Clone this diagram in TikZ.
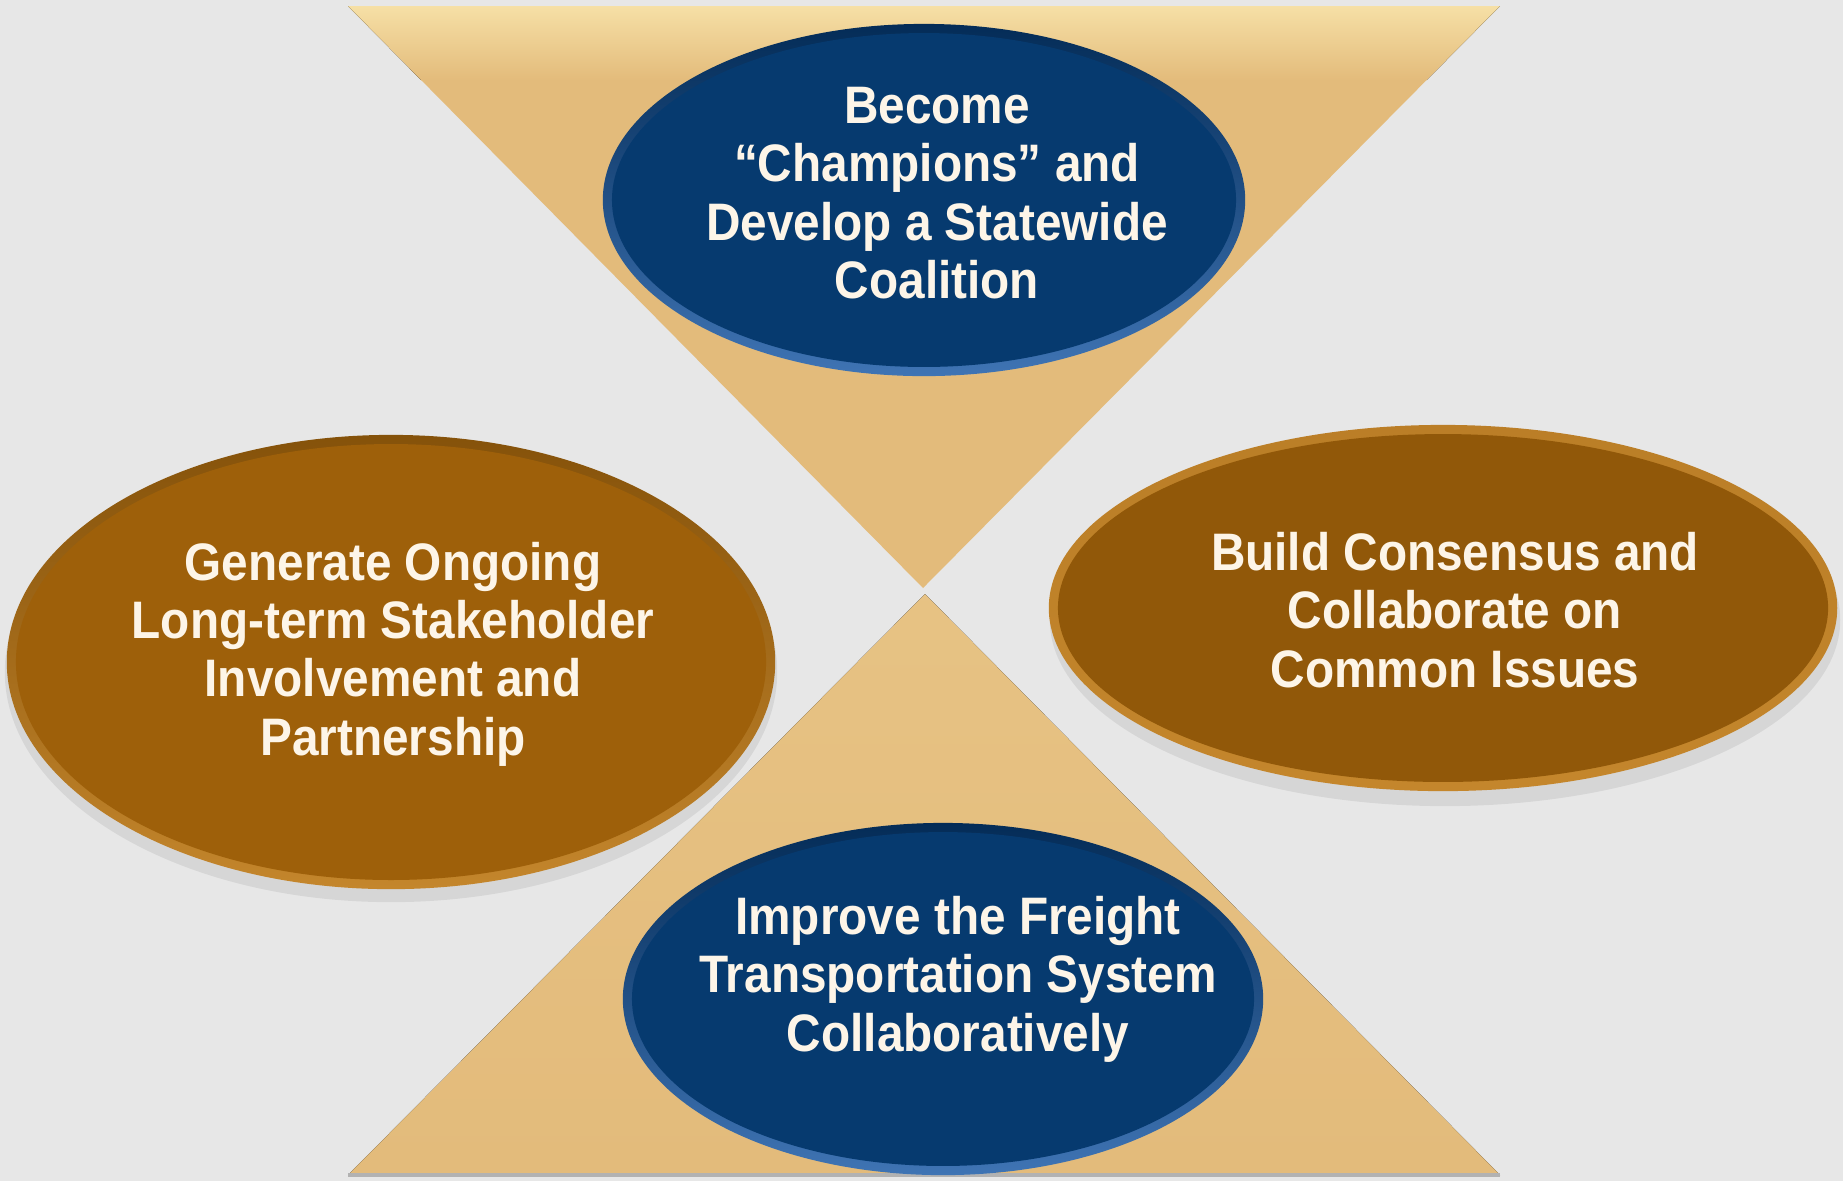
\documentclass[tikz,border=0pt]{standalone}
\usepackage{fontspec}
\setmainfont[FakeStretch=0.905]{Liberation Sans}
\usetikzlibrary{shapes.geometric}

\definecolor{bgGrey}{HTML}{E7E7E7}
\definecolor{tanMain}{HTML}{E3BB7B}
\definecolor{tanLight}{HTML}{F6E0A6}
\definecolor{navyMain}{HTML}{063A6F}
\definecolor{navyDark}{HTML}{042C57}
\definecolor{navyLight}{HTML}{3F74B4}
\definecolor{brownMain}{HTML}{9E600A}
\definecolor{brownDark}{HTML}{85520A}
\definecolor{brownLight}{HTML}{C4862C}
\definecolor{creamText}{HTML}{FDF5E8}

\begin{document}
\begin{tikzpicture}[x=0.01cm, y=-0.01cm]

% Styles for the ovals and their texts
\tikzset{oval/.style n args={5}{
        ellipse, minimum width=#1, minimum height=#2, inner sep=0pt,
        top color=#3, bottom color=#4, % bevelled rim
        path picture={\fill[#5] (path picture bounding box.center) ellipse ({#1/2-2.6pt} and {#2/2-2.6pt});}},
    ovaltext/.style={text=creamText, align=center,
        font=\bfseries\fontsize{15}{16.6}\selectfont},
    softshadow/.style={fill=black, opacity=0.07}
}

% Background (fixes the margins)
\fill[bgGrey] (0,0) rectangle (1843,1181);

% Top triangle (points down)
\coordinate (topL) at (348,6);
\coordinate (topR) at (1500,6);
\coordinate (topApex) at (923,588);
\fill[tanMain] (topL) -- (topR) -- (topApex) -- cycle;
\begin{scope}
  \clip (topL) -- (topR) -- (topApex) -- cycle;
  \fill[top color=tanLight, bottom color=tanMain] (348,6) rectangle (1500,80); % light band at the top
\end{scope}

% Bottom triangle (points up)
\coordinate (botL) at (348,1175);
\coordinate (botR) at (1500,1175);
\coordinate (botApex) at (925,594);
\fill[top color=tanMain!80!tanLight, bottom color=tanMain] (botApex) -- (botR) -- (botL) -- cycle;
\draw[black!30, line width=1pt] (botL) -- (botR); % base edge

% Shadows under the brown ovals
\fill[softshadow] (391,672) ellipse (3.86cm and 2.30cm);
\fill[softshadow] (1445,620) ellipse (3.95cm and 1.86cm);

% Blue ovals
\node[oval={6.42cm}{3.52cm}{navyDark}{navyLight}{navyMain}] (champ) at (924,200) {};
\node[oval={6.40cm}{3.52cm}{navyDark}{navyLight}{navyMain}] (freight) at (943,999) {};

% Brown ovals
\node[oval={7.68cm}{4.54cm}{brownDark}{brownLight}{brownMain}] (stake) at (391,662) {};
\node[oval={7.88cm}{3.66cm}{brownLight!85!brownDark}{brownLight}{brownMain!92!black}] (consensus) at (1443,608) {};

% Texts
\node[ovaltext] (champText) at ([shift={(13,-7)}]champ.center)
    {Become\\``Champions'' and\\Develop a Statewide\\Coalition};
\node[ovaltext] (freightText) at ([shift={(15,-20)}]freight.center)
    {Improve the Freight\\Transportation System\\Collaboratively};
\node[ovaltext] (stakeText) at ([shift={(2,-8)}]stake.center)
    {Generate Ongoing\\Long-term Stakeholder\\Involvement and\\Partnership};
\node[ovaltext] (consensusText) at ([shift={(12,2)}]consensus.center)
    {Build Consensus and\\Collaborate on\\Common Issues};

\end{tikzpicture}
\end{document}
